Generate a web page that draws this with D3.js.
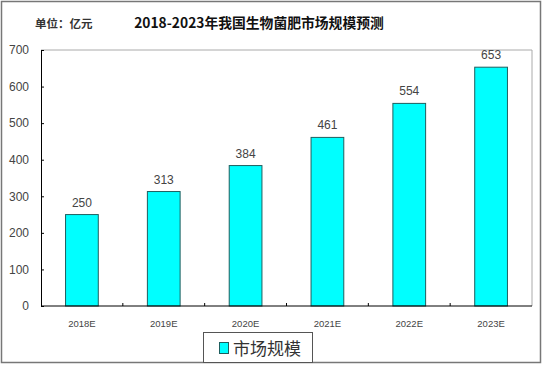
<!DOCTYPE html>
<html><head><meta charset="utf-8">
<script src="https://cdn.jsdelivr.net/npm/d3@7"></script>
<style>body{margin:0;background:#fff}svg{display:block}</style>
</head><body>
<svg id="c" width="543" height="367"></svg>
<script>
const categories = ["2018E","2019E","2020E","2021E","2022E","2023E"];
const values = [250,313,384,461,554,653];
const yTicks = [0,100,200,300,400,500,600,700];
const title = "2018-2023年我国生物菌肥市场规模预测";
const unitLabel = "单位：亿元";
const seriesName = "市场规模";

const svg = d3.select("#c");
const L = 41, R = 532, T = 50, B = 306;

svg.append("rect").attr("x",1.5).attr("y",1.5).attr("width",539).attr("height",361)
  .attr("fill","#fff").attr("stroke","#777").attr("stroke-width",1.5);

const x = d3.scaleBand().domain(categories).range([L,R]).paddingInner(0.6).paddingOuter(0.3);
const y = d3.scaleLinear().domain([0,700]).range([B,T]);

// plot frame top/right
svg.append("path").attr("d",`M${L},${T}H${R}V${B}`).attr("fill","none").attr("stroke","#aaa").attr("stroke-width",1);

// bars
svg.selectAll("rect.bar").data(values).join("rect").attr("class","bar")
  .attr("x",(d,i)=>x(categories[i])).attr("width",x.bandwidth())
  .attr("y",d=>y(d)).attr("height",d=>B-y(d))
  .attr("fill","#00FFFF").attr("stroke","#1f5f5f").attr("stroke-width",1);

// value labels
svg.selectAll("text.val").data(values).join("text").attr("class","val")
  .attr("x",(d,i)=>x(categories[i])+x.bandwidth()/2).attr("y",d=>y(d)-8)
  .attr("text-anchor","middle").attr("font-family","Arial,'Liberation Sans',sans-serif")
  .attr("font-size",12).attr("fill","#444").text(d=>d);

// y axis
const yAxis = d3.axisLeft(y).tickValues(yTicks).tickSize(-3).tickPadding(12);
const gy = svg.append("g").attr("transform",`translate(${L},0)`).call(yAxis);
gy.select(".domain").attr("stroke","#000");
gy.selectAll(".tick line").attr("stroke","#000");
gy.selectAll("text").attr("font-family","Arial,'Liberation Sans',sans-serif").attr("font-size",12).attr("fill","#444");

// x axis
const gx = svg.append("g").attr("transform",`translate(0,${B})`);
gx.append("line").attr("x1",L).attr("x2",R).attr("stroke","#000");
const step = x.step();
gx.selectAll("line.tk").data(categories.slice(1)).join("line").attr("class","tk")
  .attr("x1",d=>x(d)-x.paddingInner()*step/2).attr("x2",d=>x(d)-x.paddingInner()*step/2)
  .attr("y1",0).attr("y2",-3).attr("stroke","#000");
gx.selectAll("text").data(categories).join("text")
  .attr("x",d=>x(d)+x.bandwidth()/2).attr("y",21).attr("text-anchor","middle")
  .attr("font-family","Arial,'Liberation Sans',sans-serif").attr("font-size",9.5).attr("fill","#444").text(d=>d);

// title
svg.append("text").attr("x",259).attr("y",28).attr("text-anchor","middle")
  .attr("font-family","'Noto Sans CJK SC',sans-serif").attr("font-size",13.8).attr("font-weight","bold")
  .attr("fill","#111").text(title);
svg.append("text").attr("x",35).attr("y",28)
  .attr("font-family","'Noto Sans CJK SC',sans-serif").attr("font-size",11.5).attr("font-weight","bold")
  .attr("fill","#333").text(unitLabel);

// legend
const lg = svg.append("g");
lg.append("rect").attr("x",203.5).attr("y",332.5).attr("width",109).attr("height",30)
  .attr("fill","#fff").attr("stroke","#555").attr("stroke-width",1);
lg.append("rect").attr("x",219.5).attr("y",342.5).attr("width",9).attr("height",11)
  .attr("fill","#00FFFF").attr("stroke","#1f5f5f");
lg.append("text").attr("x",233).attr("y",354.5)
  .attr("font-family","'Noto Sans CJK SC',sans-serif").attr("font-size",17).attr("fill","#333").text(seriesName);
</script>
</body></html>
